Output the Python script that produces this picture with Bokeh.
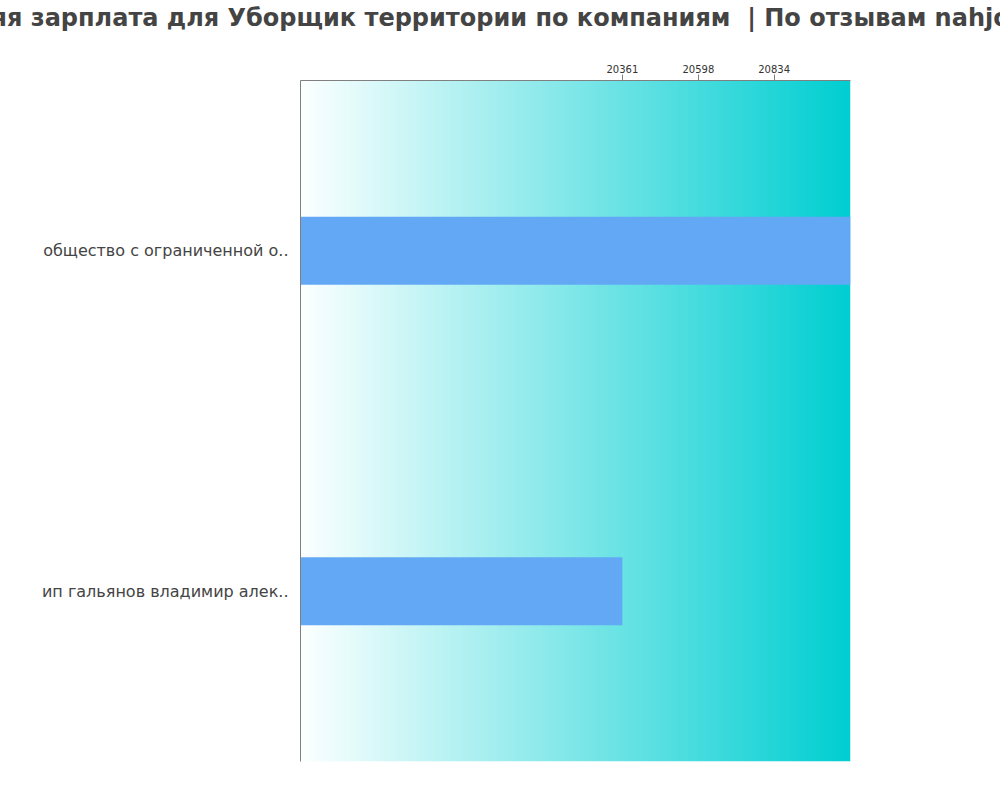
import numpy as np
from bokeh.plotting import figure
from bokeh.models import FactorRange, Range1d, FixedTicker, Title
from bokeh.embed import file_html
from bokeh.resources import INLINE

title_text = "Средняя зарплата для Уборщик территории по компаниям \u00a0| По отзывам nahjob.ru"
categories = ["общество с ограниченной о..", "ип гальянов владимир алек.."]
salaries = [21072, 20361]
tick_values = [20361, 20598, 20834]
x_start = 19358
x_end = 21072

p = figure(
    width=1000, height=800,
    y_range=FactorRange(factors=list(reversed(categories))),
    x_range=Range1d(x_start, x_end),
    x_axis_location="above",
    output_backend="svg", toolbar_location=None,
    min_border_left=300, min_border_right=150,
    min_border_top=80, min_border_bottom=39,
)

# background gradient (white -> dark turquoise)
N = 300
img = np.empty((1, N), dtype=np.uint32)
view = img.view(dtype=np.uint8).reshape((1, N, 4))
t = np.linspace(0, 1, N)
start_c = np.array([252, 255, 255])
end_c = np.array([0, 206, 209])
for k in range(3):
    view[0, :, k] = np.round(start_c[k] + (end_c[k] - start_c[k]) * t).astype(np.uint8)
view[0, :, 3] = 255
p.image_rgba(image=[img], x=x_start, y=0, dw=x_end - x_start, dh=2)

p.hbar(y=categories, left=x_start, right=salaries, height=0.2,
       fill_color="#63a8f5", line_color=None)

# blank spacer between the axis and the title
spacer = Title(text=" ", text_font_size="1px", standoff=26)
p.add_layout(spacer, "above")

p.title = Title(text=title_text, align="left", offset=-396,
                text_font="DejaVu Sans", text_font_size="24px",
                text_font_style="bold", text_color="#444444", standoff=2)

p.xgrid.grid_line_color = None
p.ygrid.grid_line_color = None
p.outline_line_color = None

xa = p.xaxis[0]
xa.ticker = FixedTicker(ticks=tick_values)
xa.axis_line_color = "#808080"
xa.major_tick_line_color = "#808080"
xa.major_tick_out = 6
xa.major_tick_in = 0
xa.minor_tick_line_color = None
xa.major_label_text_font = "DejaVu Sans"
xa.major_label_text_font_size = "10px"
xa.major_label_text_color = "#333333"
xa.major_label_standoff = 2

ya = p.yaxis[0]
ya.axis_line_color = "#808080"
ya.major_tick_line_color = None
ya.minor_tick_line_color = None
ya.major_tick_out = 0
ya.major_tick_in = 0
ya.major_label_text_font = "DejaVu Sans"
ya.major_label_text_font_size = "16px"
ya.major_label_text_color = "#444444"
ya.major_label_standoff = 12

open("out.html", "w").write(file_html(p, INLINE))
